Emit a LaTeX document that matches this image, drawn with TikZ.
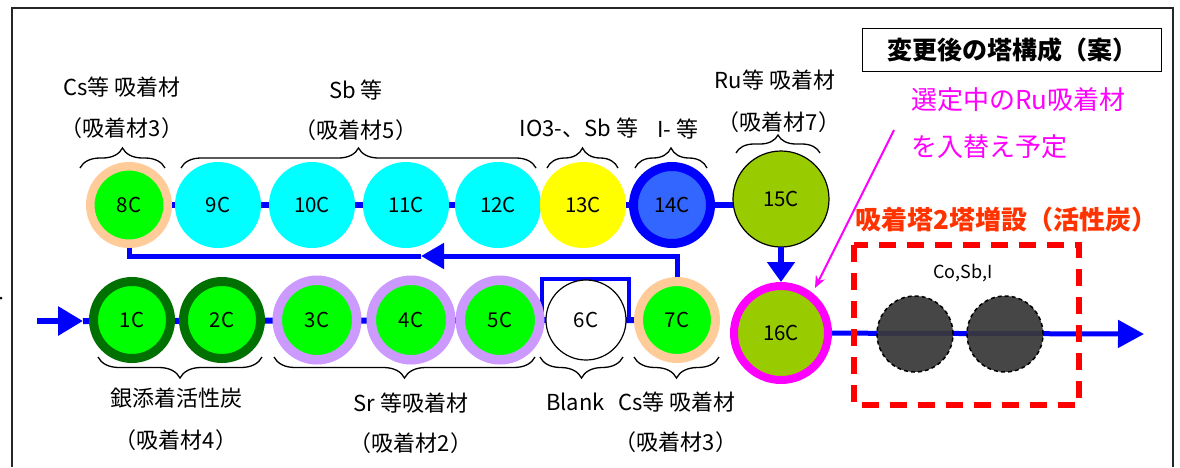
\documentclass[tikz,border=0pt]{standalone}
\usepackage{fontspec}
\setmainfont{Noto Sans CJK JP}
\usetikzlibrary{arrows.meta,decorations.pathreplacing,backgrounds}
\definecolor{peach}{HTML}{FFCC99}
\definecolor{gre}{HTML}{00FF00}
\definecolor{cyn}{HTML}{00FFFF}
\definecolor{yel}{HTML}{FFFF00}
\definecolor{blu}{HTML}{0000FF}
\definecolor{lblu}{HTML}{3366FF}
\definecolor{oliv}{HTML}{99CC00}
\definecolor{mag}{HTML}{FF00FF}
\definecolor{dgre}{HTML}{007000}
\definecolor{lav}{HTML}{CC99FF}
\definecolor{redd}{HTML}{FF0000}
\definecolor{redo}{HTML}{FF3300}
\definecolor{darkg}{HTML}{383838}
\tikzset{
  flow/.style={draw=blu, line width=6pt},
  tower/.style={circle, inner sep=0pt, outer sep=0pt, font=\fontsize{20.5}{20.5}\selectfont},
  lbl/.style={font=\fontsize{22}{22}\selectfont, inner sep=0pt},
  brc/.style={decorate, decoration={brace, amplitude=#1}, draw=black, line width=1.3pt},
  newtower/.style={circle, inner sep=0pt, outer sep=0pt, fill=darkg, fill opacity=0.93, draw=black, dash pattern=on 4pt off 3pt, line width=1.5pt, minimum size=76pt},
}
\begin{document}
\begin{tikzpicture}[x=1pt,y=-1pt]
\useasboundingbox (0,0) rectangle (1180,467);
% frame
\draw[line width=1.5pt, black!85] (12,467) -- (12,8) -- (1173,8) -- (1173,467);
\fill (1,298) circle (1.5pt);

% top row
\node[tower, fill=gre, draw=peach, line width=8.5pt, minimum size=77.5pt] (c8) at (129,205) {8C};
\node[tower, fill=cyn, minimum size=86pt] (c9) at (218,205) {9C};
\node[tower, fill=cyn, minimum size=86pt] (c10) at (312,205) {10C};
\node[tower, fill=cyn, minimum size=86pt] (c11) at (406,205) {11C};
\node[tower, fill=cyn, minimum size=86pt] (c12) at (498,205) {12C};
\node[tower, fill=yel, minimum size=86pt] (c13) at (583,205) {13C};
\node[tower, fill=lblu, draw=blu, line width=9pt, minimum size=77pt] (c14) at (672,205) {14C};
\node[tower, fill=oliv, draw=black, line width=1.2pt, minimum size=96pt] (c15) at (781,199) {15C};

% bottom row
\node[tower, fill=gre, draw=dgre, line width=9pt, minimum size=77pt] (c1) at (132,320) {1C};
\node[tower, fill=gre, draw=dgre, line width=9pt, minimum size=77pt] (c2) at (222,320) {2C};
\node[tower, fill=gre, draw=lav, line width=9.5pt, minimum size=79.5pt] (c3) at (317,320) {3C};
\node[tower, fill=gre, draw=lav, line width=9.5pt, minimum size=79.5pt] (c4) at (411,320) {4C};
\node[tower, fill=gre, draw=lav, line width=9.5pt, minimum size=79.5pt] (c5) at (500,320) {5C};
\node[tower, fill=white, draw=black, line width=1.2pt, minimum size=80pt] (c6) at (586,320) {6C};
\node[tower, fill=gre, draw=peach, line width=9pt, minimum size=77pt] (c7) at (677,320) {7C};
\node[tower, fill=oliv, draw=mag, line width=8pt, minimum size=94pt] (c16) at (781,333) {16C};

% new adsorption towers
\node[newtower] (g1) at (915,334) {};
\node[newtower] (g2) at (1005,334) {};
\draw[redd, line width=6pt, dash pattern=on 17pt off 11pt] (854,245) rectangle (1079,405);

% coordinates
\coordinate (inStart) at (37,321);
\coordinate (inTip) at (83,321);
\coordinate (outTip) at (1144,334);
\coordinate (r1) at (677,256);
\coordinate (rMid) at (421,256);
\coordinate (bpA) at (542,321);
\coordinate (bpB) at (542,279);
\coordinate (bpC) at (629,279);
\coordinate (bpD) at (629,321);
\coordinate (mStart) at (894,130);
\coordinate (mEnd) at (815,288);

\begin{scope}[on background layer]
  \draw[flow] (c8.center) -- (c8.center -| c15.center);
  \draw[flow] (inTip) -- (c7.center);
  \draw[flow, line width=5pt, -{Triangle[length=26pt,width=27pt]}] (c16.center) -- (outTip);
  \draw[flow, line width=5pt, -{Triangle[length=23pt,width=25pt]}] (c7.north) -- (r1) -- (rMid);
  \draw[flow, line width=5pt] (rMid) -| (c8.south);
  \draw[flow, line width=4.5pt] (bpA) -- (bpB) -- (bpC) -- (bpD);
\end{scope}
\draw[flow, -{Triangle[length=25pt,width=28pt]}] (inStart) -- (inTip);
\draw[flow, line width=6pt, shorten >=4pt, -{Triangle[length=20pt,width=27pt]}] (c15.south) -- (c16.north);
\draw[mag, line width=2pt, -{Stealth[length=12pt,width=10pt]}] (mStart) -- (mEnd);

% braces top
\draw[brc=20pt] (80,168) -- (165,168);
\draw[brc=20pt] (181,168) -- (536,168);
\draw[brc=20pt] (547,168) -- (618,168);
\draw[brc=20pt] (635,168) -- (707,168);
\draw[brc=18pt] (736,153) -- (820,153);
% braces bottom
\draw[brc=21pt] (262,357) -- (98,357);
\draw[brc=21pt] (535,357) -- (274,357);
\draw[brc=21pt] (623,357) -- (540,357);
\draw[brc=21pt] (719,357) -- (634,357);

% labels
\node[lbl] (t8a) at (122,87) {Cs等 吸着材};
\node[lbl] (t8b) at (122,128) {（吸着材3）};
\node[lbl] (t9a) at (356,90) {Sb 等};
\node[lbl] (t9b) at (356,130) {（吸着材5）};
\node[lbl] (t13) at (579,128) {IO3-、Sb 等};
\node[lbl] (t14) at (678,129) {I- 等};
\node[lbl] (t15a) at (775,80) {Ru等 吸着材};
\node[lbl] (t15b) at (779,122) {（吸着材7）};
\node[lbl] (t1a) at (176,398) {銀添着活性炭};
\node[lbl] (t1b) at (176,440) {（吸着材4）};
\node[lbl] (t3a) at (411,403) {Sr 等吸着材};
\node[lbl] (t3b) at (411,443) {（吸着材2）};
\node[lbl, anchor=west] (t6) at (546,402) {Blank};
\node[lbl] (t7a) at (677,402) {Cs等 吸着材};
\node[lbl] (t7b) at (676,442) {（吸着材3）};
\node[font=\fontsize{18}{18}\selectfont, inner sep=0pt] (tg) at (963,273) {Co,Sb,I};

\node[draw=black, line width=1.5pt, minimum width=299pt, minimum height=43pt, inner sep=0pt, font=\bfseries\fontsize{25}{25}\selectfont] (title) at (1012,50) {変更後の塔構成（案）};
\node[anchor=west, inner sep=0pt, text=mag, font=\fontsize{26}{26}\selectfont] (m1) at (911,100) {選定中のRu吸着材};
\node[anchor=west, inner sep=0pt, text=mag, font=\fontsize{26}{26}\selectfont] (m2) at (911,147) {を入替え予定};
\node[anchor=west, inner sep=0pt, text=redo, font=\bfseries\fontsize{26}{26}\selectfont] (rtxt) at (855,220) {吸着塔2塔増設（活性炭）};
\end{tikzpicture}
\end{document}
